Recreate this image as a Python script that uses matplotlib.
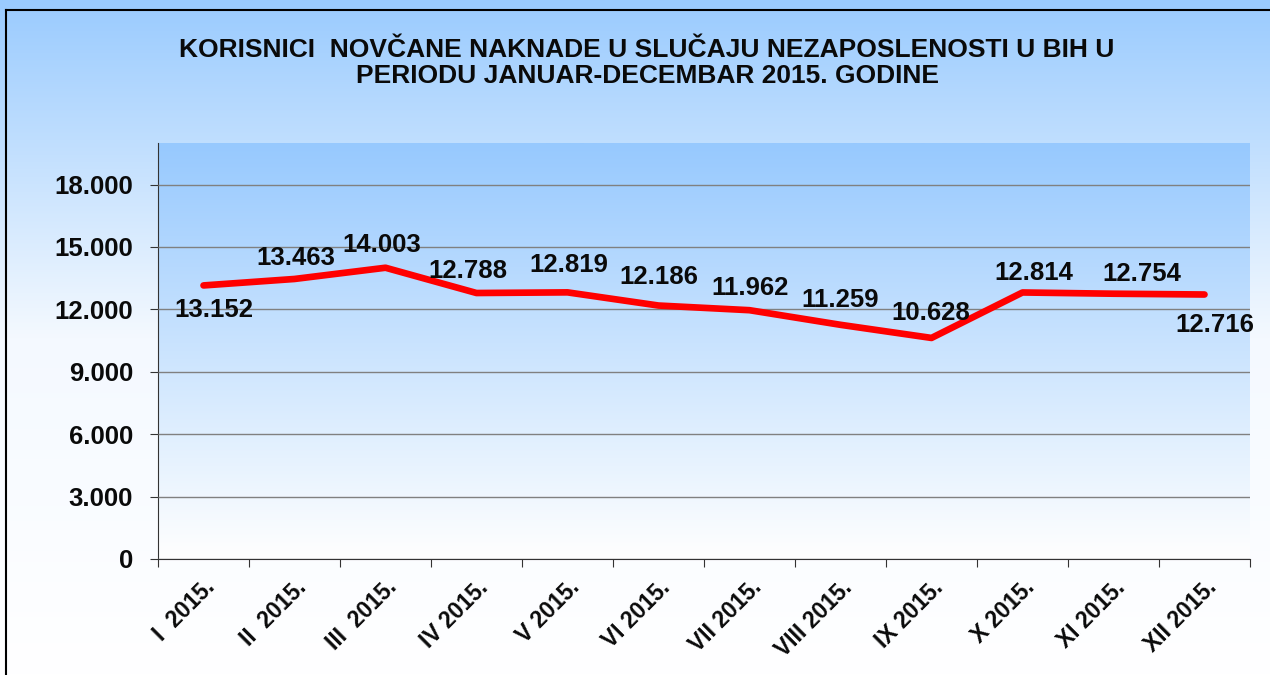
import matplotlib.pyplot as plt
import numpy as np
from matplotlib.colors import LinearSegmentedColormap
from matplotlib.lines import Line2D

months = ['I  2015.', 'II  2015.', 'III  2015.', 'IV 2015.', 'V 2015.', 'VI 2015.',
          'VII 2015.', 'VIII 2015.', 'IX 2015.', 'X 2015.', 'XI 2015.', 'XII 2015.']
korisnici = [13152, 13463, 14003, 12788, 12819, 12186, 11962, 11259, 10628, 12814, 12754, 12716]
y_ticks = [0, 3000, 6000, 9000, 12000, 15000, 18000]
title = 'KORISNICI  NOVČANE NAKNADE U SLUČAJU NEZAPOSLENOSTI U BIH U\nPERIODU JANUAR-DECEMBAR 2015. GODINE'

# label offsets in pixels (dx, dy) from each point
lbl_off = [(10, -25), (1, 21), (-4, 23), (-9, 22), (1, 27), (0, 29),
           (1, 22), (0, 25), (-1, 25), (11, 19), (28, 20), (10, -30)]

plt.rcParams['font.family'] = ['Liberation Sans', 'DejaVu Sans']
plt.rcParams['font.weight'] = 'bold'

fig = plt.figure(figsize=(12.7, 6.75), dpi=100)

# figure background gradient
bg = fig.add_axes([0, 0, 1, 1], zorder=-10)
cm_bg = LinearSegmentedColormap.from_list('bg', ['#FFFFFF', '#F4F9FF', '#9ACBFE'])
grad = np.linspace(0, 1, 256).reshape(-1, 1)
bg.imshow(grad, aspect='auto', cmap=cm_bg, origin='lower', extent=[0, 1, 0, 1])
bg.axis('off')
fig.add_artist(Line2D([6/1270, 6/1270], [0, 1 - 10/675], transform=fig.transFigure, color='black', lw=1.5))
fig.add_artist(Line2D([6/1270, 1], [1 - 10/675, 1 - 10/675], transform=fig.transFigure, color='black', lw=1.5))

ax = fig.add_axes([158/1270, 1 - 559/675, (1250 - 158)/1270, (559 - 143)/675])
ax.patch.set_visible(False)
cm_ax = LinearSegmentedColormap.from_list('ax', ['#FFFFFF', '#97C9FE'])
ax.imshow(grad, aspect='auto', cmap=cm_ax, origin='lower', extent=[0, 1, 0, 1],
          transform=ax.transAxes, zorder=0)

x = np.arange(len(months))
ax.plot(x, korisnici, color='#FF0000', lw=4.8, solid_capstyle='round', zorder=3)

for i, v in enumerate(korisnici):
    s = f'{v:,}'.replace(',', '.')
    ax.annotate(s, (x[i], v), xytext=lbl_off[i], textcoords='offset pixels',
                ha='center', va='center', fontsize=18.5, fontweight='bold', color='#0A0A0A', zorder=4)

ax.set_xlim(-0.5, len(months) - 0.5)
ax.set_ylim(0, 20000)
ax.set_yticks(y_ticks)
ax.set_yticklabels([f'{t:,}'.replace(',', '.') for t in y_ticks], fontsize=18.5, fontweight='bold',
                   color='#0A0A0A')
ax.yaxis.grid(True, color='#808080', lw=1)
ax.set_axisbelow(False)
for gl in ax.get_ygridlines():
    gl.set_zorder(1)

ax.set_xticks(np.arange(len(months) + 1) - 0.5)
ax.set_xticklabels([])
ax.set_xticks(x, minor=True)
ax.set_xticklabels(months, minor=True, rotation=45, ha='right', rotation_mode='anchor',
                   fontsize=16.5, fontweight='bold', color='#0A0A0A')
ax.tick_params(axis='x', which='minor', length=0, pad=12)
ax.tick_params(axis='both', which='major', length=6, direction='out', color='#333333')
ax.tick_params(axis='y', pad=12)

for sp in ['top', 'right']:
    ax.spines[sp].set_visible(False)
ax.spines['left'].set_color('#333333')
ax.spines['bottom'].set_color('#333333')

fig.text(647/1270, 1 - 63/675, title, ha='center', va='center', fontsize=19,
         fontweight='bold', color='#0A0A0A', linespacing=1.1)

fig.savefig('out.png', dpi=100)
